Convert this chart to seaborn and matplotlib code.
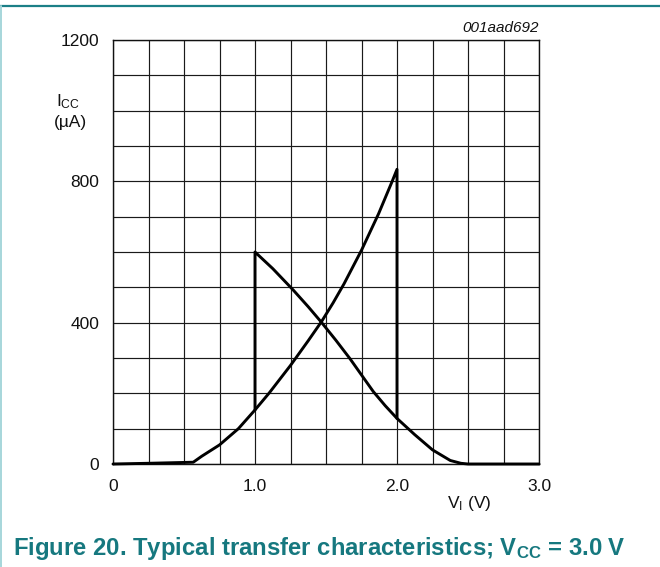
import matplotlib
matplotlib.use("Agg")
import matplotlib.pyplot as plt
from matplotlib.ticker import MultipleLocator, FixedLocator
from matplotlib.lines import Line2D
import seaborn as sns
import pandas as pd

# Input rising (V_I increasing) branch, with the jump down at 2.0 V
rise_v = [0.0, 0.25, 0.565, 0.625, 0.75, 0.883, 1.0, 1.1, 1.25, 1.375, 1.47, 1.55, 1.627,
          1.75, 1.87, 1.967, 2.0, 2.0]
rise_i = [0, 2, 5, 22, 54, 100, 153, 201, 279, 349, 404, 456, 510, 605, 708, 801, 834, 129]

# Input falling (V_I decreasing) branch, with the jump down at 1.0 V
fall_v = [3.0, 2.5, 2.45, 2.375, 2.25, 2.125, 2.0, 1.917, 1.833, 1.75, 1.669, 1.57, 1.47, 1.375,
          1.27, 1.125, 1.0, 1.0]
fall_i = [0, 0, 2, 10, 40, 83, 129, 165, 205, 252, 298, 350, 400, 445, 492, 553, 600, 153]

x_ticks = [0, 1.0, 2.0, 3.0]
x_tick_labels = ["0", "1.0", "2.0", "3.0"]
y_ticks = [0, 400, 800, 1200]
y_tick_labels = ["0", "400", "800", "1200"]

sns.set_style("white")
plt.rcParams["font.family"] = ["Liberation Sans", "DejaVu Sans"]
plt.rcParams["mathtext.fontset"] = "custom"
plt.rcParams["mathtext.rm"] = "Liberation Sans"
plt.rcParams["mathtext.it"] = "Liberation Sans:italic"
plt.rcParams["mathtext.bf"] = "Liberation Sans:bold"

W, H = 660, 567
fig = plt.figure(figsize=(W / 100, H / 100), dpi=100)
ax = fig.add_axes([113 / W, 1 - 464 / H, (539 - 113) / W, (464 - 40) / H])

df_r = pd.DataFrame({"v": rise_v, "i": rise_i})
df_f = pd.DataFrame({"v": fall_v, "i": fall_i})
for d in (df_r, df_f):
    sns.lineplot(data=d, x="v", y="i", sort=False, estimator=None, color="black",
                 linewidth=2.1, ax=ax, clip_on=False, zorder=5)
for ln in ax.get_lines():
    ln.set_solid_joinstyle("round")

ax.set_xlim(0, 3.0)
ax.set_ylim(0, 1200)
ax.xaxis.set_major_locator(FixedLocator(x_ticks))
ax.xaxis.set_minor_locator(MultipleLocator(0.25))
ax.yaxis.set_major_locator(FixedLocator(y_ticks))
ax.yaxis.set_minor_locator(MultipleLocator(100))
ax.set_xticklabels(x_tick_labels)
ax.set_yticklabels(y_tick_labels)
ax.grid(True, which="both", color="#1a1a1a", linewidth=0.85)
ax.set_axisbelow(True)
ax.tick_params(axis="both", which="both", length=0, labelsize=12.5, colors="#111111")
ax.tick_params(axis="x", pad=11)
ax.tick_params(axis="y", pad=10)
for s in ax.spines.values():
    s.set_color("#111111")
    s.set_linewidth(1.0)
ax.set_xlabel("")
ax.set_ylabel("")

def fx(px):
    return px / W

def fy(py):
    return 1 - py / H

fig.text(fx(56), fy(106), r"I$_\mathrm{CC}$", fontsize=12.5, ha="left", va="baseline", color="#111111")
fig.text(fx(70), fy(127), "(µA)", fontsize=12.5, ha="center", va="baseline", color="#111111")
fig.text(fx(469), fy(508), r"V$_\mathrm{I}$ (V)", fontsize=12.5, ha="center", va="baseline", color="#111111")
fig.text(fx(539), fy(32), "001aad692", fontsize=11, style="italic", ha="right", va="baseline", color="#111111")

cap_color = "#16787f"
fig.text(fx(13), fy(555), r"Figure 20. Typical transfer characteristics; V$_\mathbf{CC}$ = 3.0 V",
         fontsize=17.2, fontweight="bold", ha="left", va="baseline", color=cap_color)

fig.add_artist(Line2D([0, 1], [fy(5.5), fy(5.5)], transform=fig.transFigure, color="#1b7f87", linewidth=1.6))
fig.add_artist(Line2D([0.5 / W, 0.5 / W], [0, fy(6)], transform=fig.transFigure, color="#a6d6da", linewidth=1.4))

fig.savefig("out.png", dpi=100)
